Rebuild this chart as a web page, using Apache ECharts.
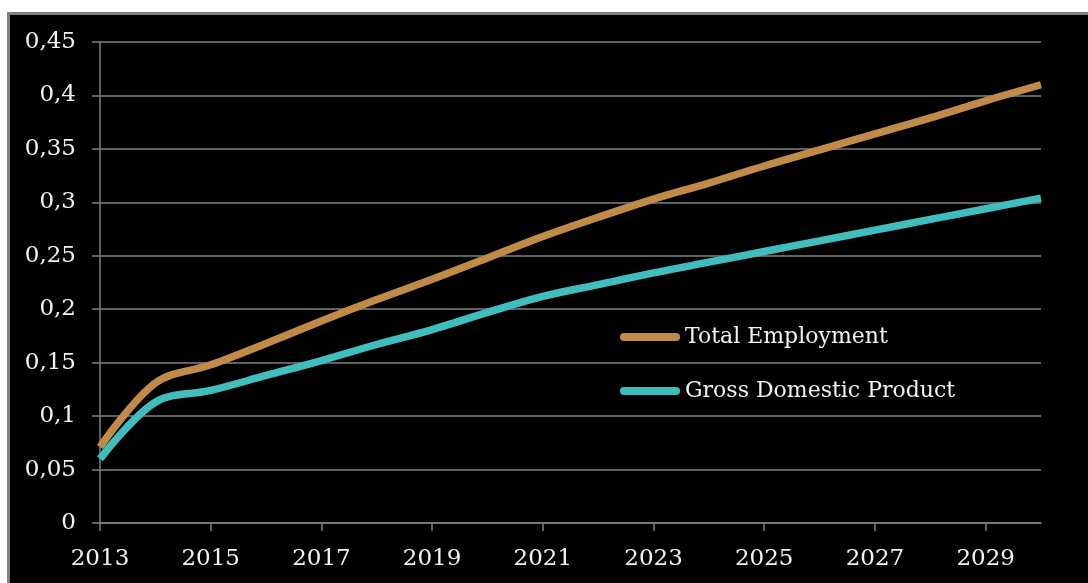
<!DOCTYPE html>
<html>
<head>
<meta charset="utf-8">
<script src="https://cdn.jsdelivr.net/npm/echarts@6/dist/echarts.min.js"></script>
<style>
  html, body { margin: 0; padding: 0; background: #ffffff; width: 1088px; height: 583px; overflow: hidden; }
  #frame { position: absolute; left: 7px; top: 12px; right: -10px; bottom: -10px; background: #000; border-left: 3px solid #808080; border-top: 3px solid #808080; }
  #chart { position: absolute; left: 0; top: 0; width: 1088px; height: 583px; }
</style>
</head>
<body>
<div id="frame"></div>
<div id="chart"></div>
<script>
const years = ['2013','2014','2015','2016','2017','2018','2019','2020','2021','2022','2023','2024','2025','2026','2027','2028','2029','2030'];
const totalEmployment = [0.071, 0.131, 0.148, 0.168, 0.189, 0.209, 0.228, 0.248, 0.268, 0.286, 0.303, 0.318, 0.334, 0.349, 0.364, 0.379, 0.395, 0.410];
const grossDomesticProduct = [0.060, 0.113, 0.124, 0.138, 0.152, 0.167, 0.181, 0.197, 0.212, 0.223, 0.234, 0.244, 0.254, 0.264, 0.274, 0.284, 0.294, 0.304];
const seriesNames = ['Total Employment', 'Gross Domestic Product'];

const chart = echarts.init(document.getElementById('chart'), null, { renderer: 'canvas' });
const font = 'DejaVu Serif';
const capsule = 'path://M4,0 L56,0 A4,4 0 0 1 56,8 L4,8 A4,4 0 0 1 4,0 Z';
chart.setOption({
  backgroundColor: 'transparent',
  animation: false,
  grid: { left: 100, right: 47, top: 42, bottom: 60 },
  legend: {
    data: seriesNames,
    orient: 'vertical',
    left: 615,
    top: 321,
    itemWidth: 60,
    itemHeight: 9,
    itemGap: 32,
    itemTextGap: 3,
    icon: capsule,
    textStyle: { color: '#f2f2f2', fontFamily: font, fontSize: 22 }
  },
  xAxis: {
    type: 'category',
    data: years,
    boundaryGap: false,
    axisLine: { lineStyle: { color: '#808080', width: 1.5 } },
    axisTick: { show: true, interval: 1, length: 8, lineStyle: { color: '#808080', width: 1.5 } },
    axisLabel: { interval: 1, color: '#f2f2f2', fontFamily: font, fontSize: 23, margin: 25 },
    splitLine: { show: false }
  },
  yAxis: {
    type: 'value',
    min: 0,
    max: 0.45,
    interval: 0.05,
    axisLine: { show: true, lineStyle: { color: '#808080', width: 1.5 } },
    axisTick: { show: true, length: 8, lineStyle: { color: '#808080', width: 1.5 } },
    axisLabel: {
      color: '#f2f2f2', fontFamily: font, fontSize: 23, margin: 24,
      formatter: v => String(parseFloat(v.toFixed(2))).replace('.', ',')
    },
    splitLine: { show: true, lineStyle: { color: '#808080', width: 1.5 } }
  },
  series: [
    {
      name: seriesNames[0], type: 'line', data: totalEmployment, smooth: 0.35,
      showSymbol: false, symbol: 'none',
      lineStyle: { color: '#C08A48', width: 7.5 }, itemStyle: { color: '#C08A48' }
    },
    {
      name: seriesNames[1], type: 'line', data: grossDomesticProduct, smooth: 0.35,
      showSymbol: false, symbol: 'none',
      lineStyle: { color: '#40BDBD', width: 7.5 }, itemStyle: { color: '#40BDBD' }
    }
  ]
});
</script>
</body>
</html>
